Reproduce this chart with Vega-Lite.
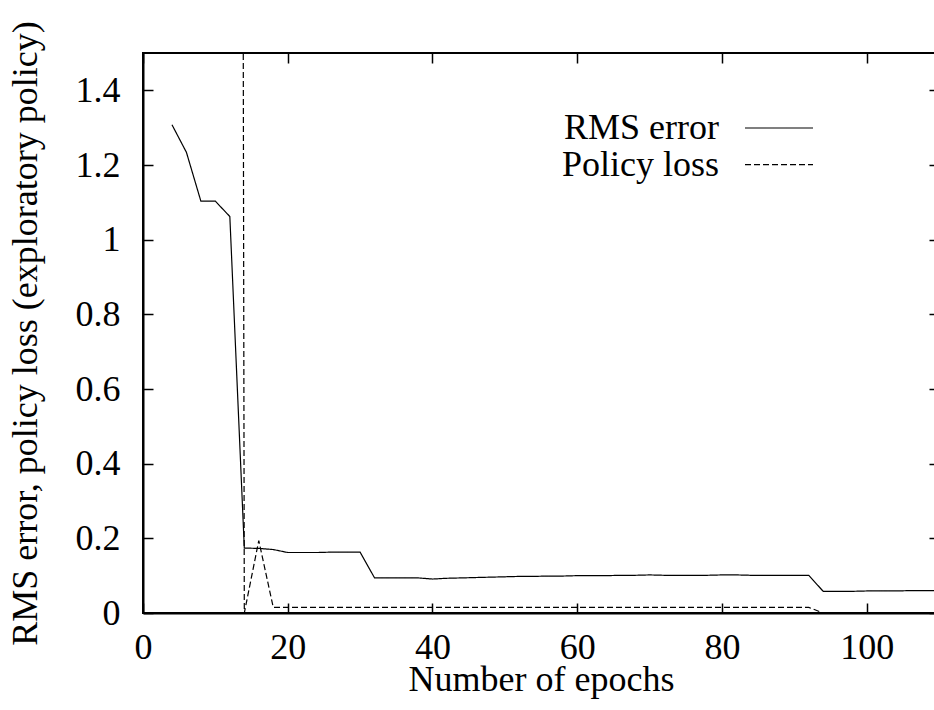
{
  "$schema": "https://vega.github.io/schema/vega-lite/v6.json",
  "width": 796,
  "height": 560,
  "autosize": {"type": "none"},
  "padding": {"left": 143, "top": 53, "right": 0, "bottom": 97},
  "background": "white",
  "config": {
    "view": {"stroke": "black", "strokeWidth": 2},
    "font": "Liberation Serif",
    "axis": {
      "labelFont": "Liberation Serif",
      "labelFontSize": 36,
      "labelColor": "black",
      "titleFont": "Liberation Serif",
      "titleFontSize": 36,
      "titleFontWeight": "normal",
      "titleColor": "black",
      "domainColor": "black",
      "domainWidth": 2,
      "tickColor": "black",
      "tickWidth": 1.5,
      "tickSize": -10,
      "grid": false,
      "labelFlush": false,
      "labelOverlap": false
    }
  },
  "data": {
    "values": [
      {"epoch": 4, "value": 1.308, "series": "RMS error"},
      {"epoch": 6, "value": 1.234, "series": "RMS error"},
      {"epoch": 8, "value": 1.103, "series": "RMS error"},
      {"epoch": 10, "value": 1.103, "series": "RMS error"},
      {"epoch": 12, "value": 1.062, "series": "RMS error"},
      {"epoch": 14, "value": 0.174, "series": "RMS error"},
      {"epoch": 16, "value": 0.173, "series": "RMS error"},
      {"epoch": 18, "value": 0.170, "series": "RMS error"},
      {"epoch": 20, "value": 0.162, "series": "RMS error"},
      {"epoch": 22, "value": 0.162, "series": "RMS error"},
      {"epoch": 24, "value": 0.162, "series": "RMS error"},
      {"epoch": 26, "value": 0.163, "series": "RMS error"},
      {"epoch": 28, "value": 0.163, "series": "RMS error"},
      {"epoch": 30, "value": 0.163, "series": "RMS error"},
      {"epoch": 32, "value": 0.094, "series": "RMS error"},
      {"epoch": 34, "value": 0.094, "series": "RMS error"},
      {"epoch": 36, "value": 0.094, "series": "RMS error"},
      {"epoch": 38, "value": 0.094, "series": "RMS error"},
      {"epoch": 40, "value": 0.091, "series": "RMS error"},
      {"epoch": 42, "value": 0.093, "series": "RMS error"},
      {"epoch": 44, "value": 0.094, "series": "RMS error"},
      {"epoch": 46, "value": 0.095, "series": "RMS error"},
      {"epoch": 48, "value": 0.096, "series": "RMS error"},
      {"epoch": 50, "value": 0.097, "series": "RMS error"},
      {"epoch": 52, "value": 0.098, "series": "RMS error"},
      {"epoch": 54, "value": 0.098, "series": "RMS error"},
      {"epoch": 56, "value": 0.099, "series": "RMS error"},
      {"epoch": 58, "value": 0.099, "series": "RMS error"},
      {"epoch": 60, "value": 0.100, "series": "RMS error"},
      {"epoch": 62, "value": 0.100, "series": "RMS error"},
      {"epoch": 64, "value": 0.100, "series": "RMS error"},
      {"epoch": 66, "value": 0.101, "series": "RMS error"},
      {"epoch": 68, "value": 0.101, "series": "RMS error"},
      {"epoch": 70, "value": 0.102, "series": "RMS error"},
      {"epoch": 72, "value": 0.101, "series": "RMS error"},
      {"epoch": 74, "value": 0.101, "series": "RMS error"},
      {"epoch": 76, "value": 0.101, "series": "RMS error"},
      {"epoch": 78, "value": 0.101, "series": "RMS error"},
      {"epoch": 80, "value": 0.102, "series": "RMS error"},
      {"epoch": 82, "value": 0.102, "series": "RMS error"},
      {"epoch": 84, "value": 0.101, "series": "RMS error"},
      {"epoch": 86, "value": 0.101, "series": "RMS error"},
      {"epoch": 88, "value": 0.101, "series": "RMS error"},
      {"epoch": 90, "value": 0.101, "series": "RMS error"},
      {"epoch": 92, "value": 0.101, "series": "RMS error"},
      {"epoch": 94, "value": 0.058, "series": "RMS error"},
      {"epoch": 96, "value": 0.058, "series": "RMS error"},
      {"epoch": 98, "value": 0.058, "series": "RMS error"},
      {"epoch": 100, "value": 0.059, "series": "RMS error"},
      {"epoch": 102, "value": 0.059, "series": "RMS error"},
      {"epoch": 104, "value": 0.059, "series": "RMS error"},
      {"epoch": 106, "value": 0.060, "series": "RMS error"},
      {"epoch": 108, "value": 0.060, "series": "RMS error"},
      {"epoch": 110, "value": 0.060, "series": "RMS error"},
      {"epoch": 12, "value": 21, "series": "Policy loss"},
      {"epoch": 14, "value": 0, "series": "Policy loss"},
      {"epoch": 16, "value": 0.194, "series": "Policy loss"},
      {"epoch": 18, "value": 0.015, "series": "Policy loss"},
      {"epoch": 20, "value": 0.015, "series": "Policy loss"},
      {"epoch": 30, "value": 0.015, "series": "Policy loss"},
      {"epoch": 40, "value": 0.015, "series": "Policy loss"},
      {"epoch": 50, "value": 0.015, "series": "Policy loss"},
      {"epoch": 60, "value": 0.015, "series": "Policy loss"},
      {"epoch": 70, "value": 0.015, "series": "Policy loss"},
      {"epoch": 80, "value": 0.015, "series": "Policy loss"},
      {"epoch": 90, "value": 0.015, "series": "Policy loss"},
      {"epoch": 92, "value": 0.015, "series": "Policy loss"},
      {"epoch": 94, "value": 0, "series": "Policy loss"},
      {"epoch": 100, "value": 0, "series": "Policy loss"},
      {"epoch": 110, "value": 0, "series": "Policy loss"}
    ]
  },
  "layer": [
    {
      "mark": {"type": "line", "clip": true, "color": "black", "strokeWidth": 1.2},
      "encoding": {
        "x": {
          "field": "epoch",
          "type": "quantitative",
          "scale": {"domain": [0, 110], "nice": false, "zero": false},
          "axis": {
            "orient": "bottom",
            "values": [0, 20, 40, 60, 80, 100],
            "format": "d",
            "title": "Number of epochs",
            "labelPadding": 27,
            "titlePadding": -3
          }
        },
        "y": {
          "field": "value",
          "type": "quantitative",
          "scale": {"domain": [0, 1.5], "nice": false},
          "axis": {
            "orient": "left",
            "values": [0, 0.2, 0.4, 0.6, 0.8, 1, 1.2, 1.4],
            "format": "~g",
            "title": "RMS error, policy loss (exploratory policy)",
            "labelPadding": 33,
            "titlePadding": 31
          }
        },
        "strokeDash": {
          "field": "series",
          "type": "nominal",
          "scale": {"domain": ["RMS error", "Policy loss"], "range": [[1, 0], [6, 3]]},
          "legend": {
            "title": null,
            "orient": "none",
            "legendX": 618,
            "legendY": 57,
            "symbolType": "M-2,0H2",
            "symbolSize": 1156,
            "symbolStrokeWidth": 1.2,
            "symbolStrokeColor": "black",
            "symbolOpacity": 1,
            "labelFont": "Liberation Serif",
            "labelFontSize": 36,
            "labelColor": "black",
            "labelAlign": "right",
            "labelOffset": -78,
            "labelLimit": 500,
            "rowPadding": 0.6,
            "padding": 0
          }
        }
      }
    },
    {
      "mark": {"type": "line", "clip": true, "opacity": 0},
      "encoding": {
        "x": {
          "field": "epoch",
          "type": "quantitative",
          "axis": {
            "orient": "top",
            "values": [0, 20, 40, 60, 80, 100],
            "labels": false,
            "title": null,
            "domain": false
          }
        },
        "y": {
          "field": "value",
          "type": "quantitative",
          "axis": {
            "orient": "right",
            "values": [0, 0.2, 0.4, 0.6, 0.8, 1, 1.2, 1.4],
            "labels": false,
            "title": null,
            "domain": false
          }
        },
        "detail": {"field": "series"}
      }
    }
  ]
}
